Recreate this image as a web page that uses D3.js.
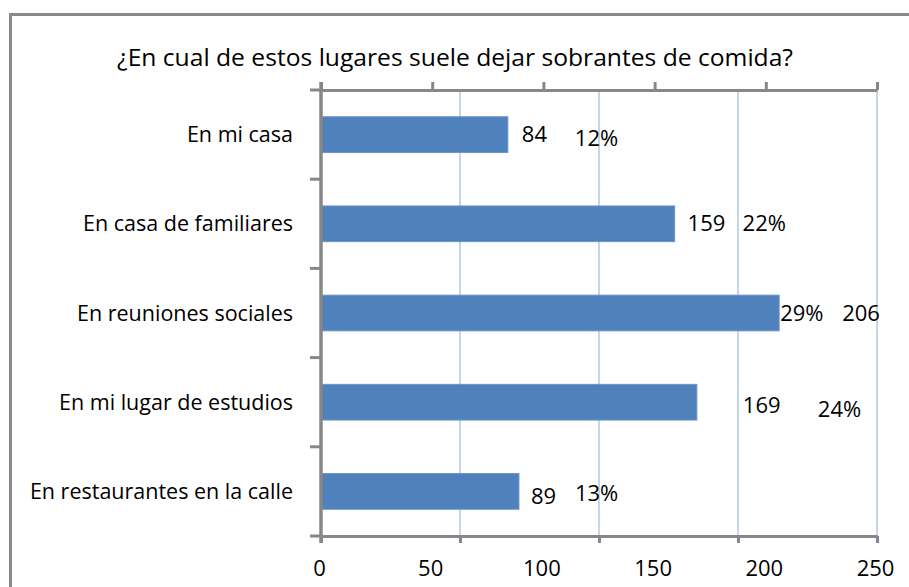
<!DOCTYPE html>
<html>
<head>
<meta charset="utf-8">
<script src="https://cdn.jsdelivr.net/npm/d3@7"></script>
<style>
  body { margin: 0; background: #fff; }
  svg text { font-family: "Open Sans", "Noto Sans", sans-serif; fill: #000; }
</style>
</head>
<body>
<figure id="bar" style="margin:0"></figure>
<script>
// chart values
const categories = ["En mi casa", "En casa de familiares", "En reuniones sociales", "En mi lugar de estudios", "En restaurantes en la calle"];
const counts = [84, 159, 206, 169, 89];
const percents = ["12%", "22%", "29%", "24%", "13%"];
const labelTicks = [0, 50, 100, 150, 200, 250];
const gridTicks = [0, 62.5, 125, 187.5, 250];
const title = "¿En cual de estos lugares suele dejar sobrantes de comida?";

// hand-moved label offsets (px from bar end / band centre)
const countOffset = [[14, 0], [13, -1], [63, 0], [46, 3], [12, 5]];
const pctOffset = [[67, 4], [68, -1], [1, 0], [121, 7], [56, 2]];

const width = 909, height = 587;
const plotLeft = 321, plotRight = 877, plotTop = 90, plotBottom = 536;
const axisColor = "#878787";
const fontSize = 22;

const svg = d3.select("figure#bar")
  .append("svg")
  .attr("width", width)
  .attr("height", height);

// outer frame (right and bottom edges are off the picture)
svg.append("rect")
  .attr("x", 10.5).attr("y", 14.5)
  .attr("width", 1000).attr("height", 1000)
  .attr("fill", "none")
  .attr("stroke", "#898989")
  .attr("stroke-width", 3);

svg.append("text")
  .attr("x", 117).attr("y", 66)
  .attr("font-size", 24)
  .attr("textLength", 676)
  .attr("lengthAdjust", "spacingAndGlyphs")
  .text(title);

const x = d3.scaleLinear().domain([0, 250]).range([plotLeft, plotRight]);
const y = d3.scaleBand().domain(categories).range([plotTop, plotBottom]).paddingInner(0.6).paddingOuter(0.3);

// gridlines
svg.append("g")
  .selectAll("line")
  .data(gridTicks.slice(1))
  .enter()
  .append("line")
  .attr("x1", d => x(d)).attr("x2", d => x(d))
  .attr("y1", plotTop).attr("y2", plotBottom)
  .attr("stroke", "#b3c7e8")
  .attr("stroke-width", 1.5);

// bars
svg.selectAll("bars")
  .data(counts)
  .enter()
  .append("rect")
  .attr("x", x(0))
  .attr("y", (d, i) => y(categories[i]))
  .attr("width", d => x(d) - x(0))
  .attr("height", y.bandwidth())
  .attr("fill", "#4f81bd")
  .attr("stroke", "#6a93c6")
  .attr("stroke-width", 1);

// top axis: ticks only
const topAxis = svg.append("g")
  .attr("transform", "translate(0," + plotTop + ")")
  .call(d3.axisTop(x).tickValues(labelTicks).tickSize(8).tickSizeOuter(0).tickFormat(""));

// bottom axis: ticks at quarter steps, labels at 50 steps
const bottomAxis = svg.append("g")
  .attr("transform", "translate(0," + plotBottom + ")")
  .call(d3.axisBottom(x).tickValues(gridTicks).tickSize(7).tickSizeOuter(0).tickFormat(""));

const bottomLabels = svg.append("g")
  .attr("transform", "translate(0," + plotBottom + ")")
  .call(d3.axisBottom(x).tickValues(labelTicks).tickSize(0).tickPadding(24));
bottomLabels.select(".domain").remove();
bottomLabels.attr("font-family", null).attr("font-size", fontSize);
bottomLabels.selectAll("text").attr("dx", -2);

// left axis: ticks at category boundaries
const boundaries = d3.range(categories.length + 1).map(i => plotTop + i * y.step());
svg.append("g")
  .selectAll("line")
  .data(boundaries)
  .enter()
  .append("line")
  .attr("x1", plotLeft - 11).attr("x2", plotLeft)
  .attr("y1", d => d).attr("y2", d => d)
  .attr("stroke", axisColor)
  .attr("stroke-width", 3);

svg.append("line")
  .attr("x1", plotLeft).attr("x2", plotLeft)
  .attr("y1", plotTop - 8).attr("y2", plotBottom + 7)
  .attr("stroke", axisColor)
  .attr("stroke-width", 3.5);

[topAxis, bottomAxis].forEach(g => {
  g.select(".domain").attr("stroke", axisColor).attr("stroke-width", 3);
  g.selectAll(".tick line").attr("stroke", axisColor).attr("stroke-width", 3);
});

// category labels
svg.selectAll("cats")
  .data(categories)
  .enter()
  .append("text")
  .attr("x", 293)
  .attr("y", d => y(d) + y.bandwidth() / 2 + 7.5)
  .attr("text-anchor", "end")
  .attr("font-size", 21.5)
  .text(d => d);

// value and percent labels
svg.selectAll("counts")
  .data(counts)
  .enter()
  .append("text")
  .attr("x", (d, i) => x(d) + countOffset[i][0])
  .attr("y", (d, i) => y(categories[i]) + y.bandwidth() / 2 + countOffset[i][1] + 7.8)
  .attr("font-size", fontSize)
  .text(d => d);

svg.selectAll("pcts")
  .data(percents)
  .enter()
  .append("text")
  .attr("x", (d, i) => x(counts[i]) + pctOffset[i][0])
  .attr("y", (d, i) => y(categories[i]) + y.bandwidth() / 2 + pctOffset[i][1] + 7.8)
  .attr("font-size", fontSize)
  .text(d => d);
</script>
</body>
</html>
